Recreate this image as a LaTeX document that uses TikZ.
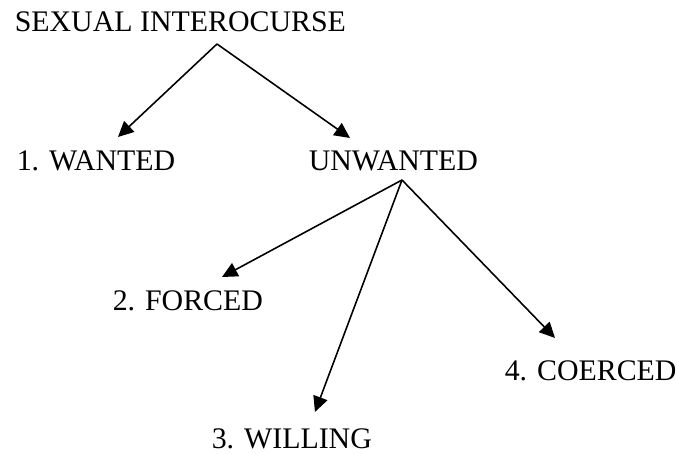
\documentclass[tikz,border=0pt]{standalone}
\usepackage{fontspec}
\setmainfont{Liberation Serif}
\usepackage{tikz}
\usetikzlibrary{arrows.meta}

\begin{document}
\begin{tikzpicture}[>={Triangle[length=4.4pt,width=4.2pt]}, line width=0.45pt,
    lbl/.style={anchor=base west, inner sep=0pt, font=\fontsize{8.5}{10}\selectfont}]
    \useasboundingbox (0,0) rectangle (6.77,-4.54);
    \node[lbl] (top) at (0.14,-0.32) {SEXUAL INTEROCURSE};
    \node[lbl] (wanted) at (0.16,-1.71) {1. WANTED};
    \node[lbl] (unwanted) at (3.08,-1.71) {UNWANTED};
    \node[lbl] (forced) at (1.12,-3.11) {2. FORCED};
    \node[lbl] (willing) at (2.11,-4.49) {3. WILLING};
    \node[lbl] (coerced) at (5.04,-3.81) {4. COERCED};
    \draw[->] ([shift={(2.03,-0.12)}]top.base west) -- ([shift={(1.02,0.34)}]wanted.base west);
    \draw[->] ([shift={(2.03,-0.12)}]top.base west) -- ([shift={(0.42,0.33)}]unwanted.base west);
    \draw[->] ([shift={(0.94,-0.09)}]unwanted.base west) -- ([shift={(1.10,0.34)}]forced.base west);
    \draw[->] ([shift={(0.94,-0.09)}]unwanted.base west) -- ([shift={(1.04,0.37)}]willing.base west);
    \draw[->] ([shift={(0.94,-0.09)}]unwanted.base west) -- ([shift={(0.51,0.43)}]coerced.base west);
  \end{tikzpicture}
\end{document}
